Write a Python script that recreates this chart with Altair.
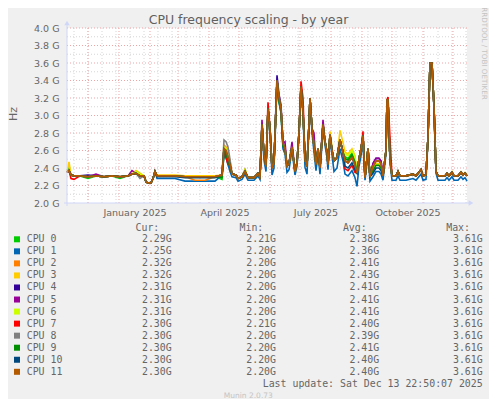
import altair as alt
import pandas as pd

# ---------------- data ----------------
START = "2024-11-10"          # left edge of the plot (400 days, 1 px per day)
END = "2025-12-15"

# day offsets from START of the sampled points
days = [0, 2, 4, 7, 13, 21, 29, 37, 45, 53,
        61, 65, 69, 73, 77, 79, 81, 84, 86, 88,
        90, 98, 108, 118, 128, 138, 148, 155, 157, 159,
        161, 163, 165, 169, 171, 175, 178, 181, 187, 191,
        193, 195, 197, 199, 201, 203, 205, 207, 210, 212,
        214, 216, 218, 220, 222, 225, 228, 230, 232, 234,
        236, 238, 240, 242, 243, 245, 247, 249, 251, 253,
        256, 258, 260, 261, 263, 265, 267, 270, 273, 276,
        278, 281, 285, 288, 290, 292, 294, 296, 298, 301,
        303, 306, 309, 312, 314, 316, 319, 320, 321, 323,
        325, 329, 331, 333, 339, 346, 349, 354, 356, 359,
        361, 363, 365, 367, 369, 371, 378, 380, 382, 385,
        387, 391, 394, 396, 398, 400]

# common (top-most, CPU 11) frequency in GHz at those days
main_ghz = [2.35, 2.37, 2.32, 2.31, 2.31, 2.30, 2.31, 2.30, 2.31, 2.30,
            2.31, 2.33, 2.34, 2.31, 2.31, 2.24, 2.23, 2.23, 2.28, 2.36,
            2.31, 2.31, 2.31, 2.30, 2.30, 2.30, 2.30, 2.32, 2.62, 2.60,
            2.52, 2.44, 2.33, 2.32, 2.28, 2.30, 2.36, 2.29, 2.29, 2.34,
            2.30, 2.90, 2.55, 2.42, 3.08, 2.85, 2.40, 2.46, 3.40, 3.20,
            3.08, 2.68, 2.62, 2.42, 2.45, 2.64, 2.36, 2.46, 2.80, 3.33,
            3.05, 2.50, 2.42, 2.90, 3.20, 2.85, 2.65, 2.44, 2.62, 2.40,
            2.90, 2.70, 2.58, 2.44, 2.78, 2.60, 2.48, 2.52, 2.72, 2.58,
            2.48, 2.46, 2.52, 2.44, 2.34, 2.50, 2.62, 2.77, 2.29, 2.62,
            2.30, 2.42, 2.48, 2.48, 2.45, 2.31, 2.60, 3.18, 3.18, 2.50,
            2.31, 2.31, 2.36, 2.31, 2.31, 2.33, 2.31, 2.38, 2.31, 2.32,
            2.75, 3.60, 3.60, 3.10, 2.36, 2.31, 2.31, 2.34, 2.31, 2.35,
            2.31, 2.31, 2.35, 2.32, 2.34, 2.31]

cpu_names = ["CPU 0", "CPU 1", "CPU 2", "CPU 3", "CPU 4", "CPU 5",
             "CPU 6", "CPU 7", "CPU 8", "CPU 9", "CPU 10", "CPU 11"]
cpu_colors = ["#00CC00", "#0066B3", "#FF8000", "#FFCC00", "#330099", "#990099",
              "#CCFF00", "#FF0000", "#808080", "#008F00", "#00487D", "#B35A00"]

# per-CPU deviations from the common line: (from day, to day, hundredths of GHz)
cpu0_dev = [(0, 2, 3), (21, 25, -2), (51, 55, -2), (155, 163, -5), (178, 178, 2),
            (212, 216, -4), (277, 289, 5), (306, 314, -4)]
cpu1_dev = [(90, 113, -3), (114, 154, -5), (156, 164, -8), (165, 193, -3), (195, 195, -4),
            (197, 199, -6), (201, 203, -4), (205, 205, -8), (207, 207, -6), (210, 214, -5),
            (216, 218, -6), (220, 222, -7), (225, 225, -4), (228, 236, -4), (238, 240, -9),
            (242, 245, -4), (247, 253, -7), (256, 258, -4), (260, 261, -6), (263, 265, -5),
            (267, 270, -12), (273, 276, -10), (278, 290, -15), (292, 296, -8), (298, 298, -3),
            (301, 303, -5), (306, 314, -12), (316, 316, -5), (319, 323, -4), (325, 359, -5),
            (361, 369, -2), (371, 398, -5), (400, 400, -6)]
cpu2_dev = [(124, 144, -4), (157, 163, 4)]
cpu3_dev = [(2, 2, 10), (69, 73, 3), (90, 154, 1), (157, 163, 3), (178, 178, 2),
            (263, 265, 4), (273, 276, 11), (278, 289, 10), (306, 314, -3), (369, 369, 1),
            (385, 385, 1), (394, 400, 1)]
cpu4_dev = [(21, 21, 2), (210, 210, 6), (212, 214, 4), (306, 314, 3)]
cpu5_dev = [(29, 29, 2), (65, 65, 4), (195, 195, 5), (218, 218, 8), (225, 225, 6),
            (247, 247, 15), (256, 256, 5), (306, 314, 3)]
cpu6_dev = [(69, 73, 2), (157, 163, 2), (277, 289, 8), (306, 314, -4)]
cpu7_dev = [(4, 7, -4), (159, 161, -8), (201, 201, 7), (234, 234, 6), (236, 236, 15),
            (278, 289, -9), (296, 296, 5), (321, 321, 3), (323, 323, 24)]
cpu8_dev = [(73, 73, -3), (157, 159, 10), (161, 161, 12), (163, 163, 6)]
cpu9_dev = [(0, 0, 2), (155, 163, -3), (212, 216, -3), (277, 289, 3), (306, 314, -5)]
cpu10_dev = [(90, 154, -1), (278, 289, -6), (306, 314, -8)]
cpu11_dev = []
cpu_devs = [cpu0_dev, cpu1_dev, cpu2_dev, cpu3_dev, cpu4_dev, cpu5_dev,
            cpu6_dev, cpu7_dev, cpu8_dev, cpu9_dev, cpu10_dev, cpu11_dev]

cur_vals = [2.29, 2.25, 2.32, 2.32, 2.31, 2.31, 2.31, 2.30, 2.30, 2.30, 2.30, 2.30]
min_vals = [2.21, 2.20, 2.20, 2.20, 2.20, 2.20, 2.20, 2.21, 2.20, 2.20, 2.20, 2.20]
avg_vals = [2.38, 2.36, 2.41, 2.43, 2.41, 2.41, 2.41, 2.40, 2.39, 2.41, 2.40, 2.40]
max_vals = [3.61, 3.61, 3.61, 3.61, 3.61, 3.61, 3.61, 3.61, 3.61, 3.61, 3.61, 3.61]

y_major = [2.0, 2.2, 2.4, 2.6, 2.8, 3.0, 3.2, 3.4, 3.6, 3.8, 4.0]
y_minor = [2.1, 2.3, 2.5, 2.7, 2.9, 3.1, 3.3, 3.5, 3.7, 3.9]
month_starts = ["2024-12-01", "2025-01-01", "2025-02-01", "2025-03-01", "2025-04-01",
                "2025-05-01", "2025-06-01", "2025-07-01", "2025-08-01", "2025-09-01",
                "2025-10-01", "2025-11-01", "2025-12-01"]
label_dates = ["2025-01-17", "2025-04-17", "2025-07-17", "2025-10-17"]

TITLE = "CPU frequency scaling - by year"
LAST_UPDATE = "Last update: Sat Dec 13 22:50:07 2025"

# ---------------- helpers ----------------
def ms(s):
    return int(pd.Timestamp(s, tz="UTC").value // 10**6)

start_ms = ms(START)
DAY = 86400000
week2 = [ms(d.strftime("%Y-%m-%d")) for d in pd.date_range("2024-11-17", "2025-12-14", freq="14D")]

W, H = 400, 175
FONT = "DejaVu Sans"
MONO = "DejaVu Sans Mono"
TXT = "#666666"
AXIS_COL = "#CFD6F8"

xscale = alt.Scale(type="utc", domain=[ms(START), ms(END)], nice=False)
yscale = alt.Scale(domain=[2.0, 4.0], nice=False, zero=False)

one = pd.DataFrame({"a": [0]})

layers = []

# grid: minor first, then major
layers.append(alt.Chart(pd.DataFrame({"v": y_minor})).mark_rule(
    color="#D6D6D6", strokeWidth=1, strokeDash=[1, 2]).encode(
    y=alt.Y("v:Q", scale=yscale, axis=None)))
layers.append(alt.Chart(pd.DataFrame({"t": week2})).mark_rule(
    color="#D6D6D6", strokeWidth=1, strokeDash=[1, 2]).encode(
    x=alt.X("t:T", scale=xscale, axis=None)))
layers.append(alt.Chart(pd.DataFrame({"v": y_major[1:]})).mark_rule(
    color="#EDA5A5", strokeWidth=1, strokeDash=[1, 2]).encode(
    y=alt.Y("v:Q", scale=yscale, axis=None)))
layers.append(alt.Chart(pd.DataFrame({"t": [ms(m) for m in month_starts]})).mark_rule(
    color="#EDA5A5", strokeWidth=1, strokeDash=[1, 2]).encode(
    x=alt.X("t:T", scale=xscale, axis=None)))

# y axis labels (no grid)
layers.append(alt.Chart(pd.DataFrame({"v": y_major})).mark_point(opacity=0).encode(
    y=alt.Y("v:Q", scale=yscale, title=None, axis=alt.Axis(
        values=y_major, labelExpr="format(datum.value, '.1f') + ' G'",
        ticks=False, domain=False, grid=False, labelPadding=8,
        labelFont=FONT, labelFontSize=9.5, labelColor=TXT))))

# x labels: month names placed through the time scale
layers.append(alt.Chart(pd.DataFrame({"t": [ms(d) for d in label_dates]})).transform_calculate(
    lab="utcFormat(datum.t, '%B %Y')").mark_text(
    font=FONT, fontSize=9.5, color=TXT, align="center", baseline="alphabetic").encode(
    x=alt.X("t:T", scale=xscale, axis=None), y=alt.value(H + 13), text="lab:N"))

# lines, CPU 0 first, CPU 11 on top
for i, name in enumerate(cpu_names):
    vals = []
    for d, v in zip(days, main_ghz):
        dev = 0
        for a, b, o in cpu_devs[i]:
            if a <= d <= b:
                dev = o
        vals.append(round(v + dev / 100.0, 3))
    dfi = pd.DataFrame({"t": [start_ms + d * DAY for d in days], "v": vals})
    layers.append(alt.Chart(dfi).mark_line(color=cpu_colors[i], strokeWidth=1.6).encode(
        x=alt.X("t:T", scale=xscale, axis=None),
        y=alt.Y("v:Q", scale=yscale, axis=None)))

# axis lines with arrows
layers.append(alt.Chart(one).mark_rule(color=AXIS_COL, strokeWidth=1).encode(
    x=alt.value(-3), x2=alt.value(404), y=alt.value(H)))
layers.append(alt.Chart(one).mark_rule(color=AXIS_COL, strokeWidth=1).encode(
    y=alt.value(H + 3), y2=alt.value(-5), x=alt.value(0)))
layers.append(alt.Chart(one).mark_point(shape="triangle-up", filled=True, size=30,
                                        color=AXIS_COL, opacity=1).encode(
    x=alt.value(0), y=alt.value(-5)))
layers.append(alt.Chart(one).mark_point(shape="triangle-right", filled=True, size=30,
                                        color=AXIS_COL, opacity=1).encode(
    x=alt.value(404), y=alt.value(H)))

# texts
def text_layer(txt, x, y, size, font=FONT, color=TXT, align="center", baseline="middle", angle=0):
    kw = dict(text=txt, font=font, fontSize=size, color=color, align=align, baseline=baseline)
    if angle:
        kw["angle"] = angle
    return alt.Chart(one).mark_text(**kw).encode(x=alt.value(x), y=alt.value(y))

layers.append(text_layer(TITLE, 181.5, -4, 12.5, baseline="alphabetic", color="#606060"))
layers.append(text_layer("Hz", -53, 86, 11, angle=270))
layers.append(text_layer("RRDTOOL / TOBI OETIKER", 416.5, 25.5, 7.2, color="#C4C4C4", angle=90))
layers.append(text_layer("Cur:", 92.3, 200.3, 9.9, font=MONO, align="right"))
layers.append(text_layer("Min:", 196.3, 200.3, 9.9, font=MONO, align="right"))
layers.append(text_layer("Avg:", 299.7, 200.3, 9.9, font=MONO, align="right"))
layers.append(text_layer("Max:", 403, 200.3, 9.9, font=MONO, align="right"))
layers.append(text_layer(LAST_UPDATE, 415.7, 355.5, 9.9, font=MONO, align="right"))
layers.append(text_layer("Munin 2.0.73", 181.3, 368, 7.5, color="#C4C4C4"))

# legend rows
leg = pd.DataFrame({
    "row": list(range(len(cpu_names))),
    "name": cpu_names,
    "cur": [f"{v:.2f}G" for v in cur_vals],
    "min": [f"{v:.2f}G" for v in min_vals],
    "avg": [f"{v:.2f}G" for v in avg_vals],
    "max": [f"{v:.2f}G" for v in max_vals],
})
rowscale = alt.Scale(domain=[0, 11], range=[211.3, 343.8], nice=False, zero=False)
ry = alt.Y("row:Q", scale=rowscale, axis=None)
layers.append(alt.Chart(leg).mark_square(size=36, opacity=1).encode(
    x=alt.value(-50), y=ry,
    color=alt.Color("name:N", scale=alt.Scale(domain=cpu_names, range=cpu_colors), legend=None)))
layers.append(alt.Chart(leg).mark_text(align="left", baseline="middle", font=MONO,
                                       fontSize=9.9, color=TXT).encode(
    x=alt.value(-40.3), y=ry, text="name:N"))
for col, xr in [("cur", 104.7), ("min", 209), ("avg", 312.2), ("max", 415.7)]:
    layers.append(alt.Chart(leg).mark_text(align="right", baseline="middle", font=MONO,
                                           fontSize=9.9, color=TXT).encode(
        x=alt.value(xr), y=ry, text=f"{col}:N"))

chart = alt.layer(*layers).resolve_scale(y="independent").properties(
    width=W, height=H,
    autosize=alt.AutoSizeParams(type="none"),
    padding={"left": 59, "top": 20, "right": 22, "bottom": 196},
    background="#F0F0F0",
).configure_view(fill="#FFFFFF", strokeWidth=0)

chart.save("out.html", embed_options={"renderer": "svg", "actions": False})
